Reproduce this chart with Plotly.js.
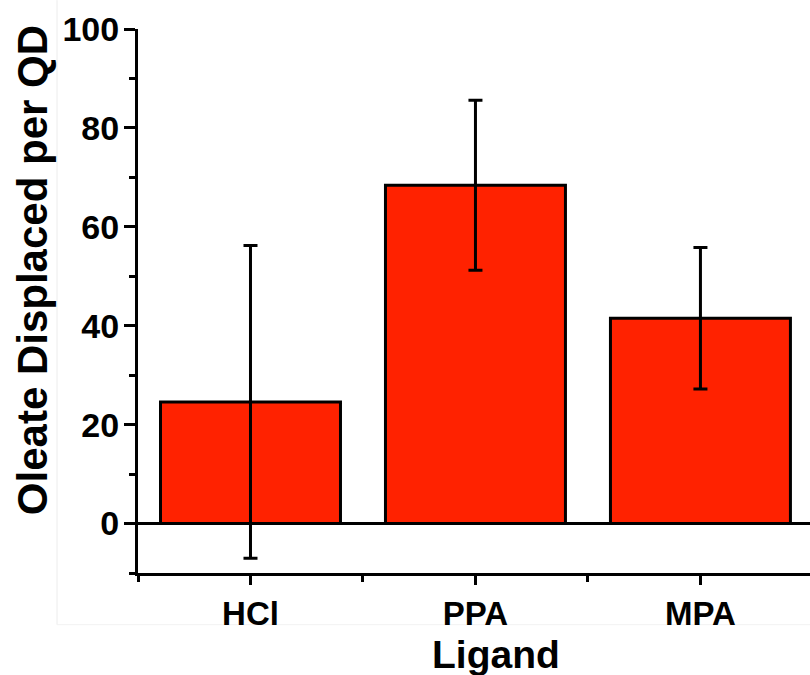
<!DOCTYPE html>
<html>
<head>
<meta charset="utf-8">
<script src="https://cdn.plot.ly/plotly-3.0.1.min.js"></script>
<style>html,body{margin:0;padding:0;background:#fff;}#chart{width:810px;height:675px;}</style>
</head>
<body>
<div id="chart"></div>
<script>
var categories = ['HCl', 'PPA', 'MPA'];
var oleateDisplaced = [24.6, 68.4, 41.5];
var errorValues = [31.6, 17.2, 14.3];
var yTickVals = [0, 20, 40, 60, 80, 100];

var xPos = categories.map(function (c, i) { return i; });

var trace = {
  type: 'bar',
  x: xPos,
  y: oleateDisplaced,
  width: 0.8,
  marker: { color: 'rgb(255,34,0)', line: { color: '#000', width: 3 } },
  error_y: { type: 'data', array: errorValues, visible: true, color: '#000', thickness: 3, width: 7 },
  hoverinfo: 'x+y'
};

var font = 'Liberation Sans, Arial, sans-serif';

var layout = {
  width: 810,
  height: 675,
  margin: { l: 138, r: 0, t: 29, b: 101.5 },
  paper_bgcolor: '#fff',
  plot_bgcolor: '#fff',
  showlegend: false,
  font: { family: font, color: '#000' },
  xaxis: {
    range: [-0.5, 2.487],
    tickmode: 'array',
    tickvals: xPos,
    ticktext: categories,
    ticks: 'outside',
    ticklen: 9,
    tickwidth: 3,
    tickcolor: '#000',
    showline: true,
    linewidth: 3,
    linecolor: '#000',
    showgrid: false,
    zeroline: false,
    tickfont: { family: font, size: 33, color: '#000', weight: 'bold' },
    minor: { tickmode: 'array', tickvals: [-0.5, 0.5, 1.5], ticks: 'outside', ticklen: 6, tickwidth: 3, tickcolor: '#000' }
  },
  yaxis: {
    range: [-10, 100],
    tickmode: 'array',
    tickvals: yTickVals,
    ticks: 'outside',
    ticklen: 11,
    tickwidth: 3,
    tickcolor: '#000',
    ticklabelstandoff: -2,
    showline: true,
    linewidth: 3,
    linecolor: '#000',
    showgrid: false,
    zeroline: true,
    zerolinecolor: '#000',
    zerolinewidth: 3,
    tickfont: { family: font, size: 34, color: '#000', weight: 'bold' },
    minor: { tickmode: 'linear', tick0: -10, dtick: 20, ticks: 'outside', ticklen: 6, tickwidth: 3, tickcolor: '#000' }
  },
  annotations: [
    {
      text: '<b>Oleate Displaced per QD</b>',
      xref: 'paper', yref: 'paper',
      x: -0.156, y: 0.557,
      xanchor: 'center', yanchor: 'middle',
      textangle: -90,
      showarrow: false,
      font: { family: font, size: 42, color: '#000' }
    },
    {
      text: '<b>Ligand</b>',
      xref: 'paper', yref: 'paper',
      x: 0.532, y: -0.15,
      xanchor: 'center', yanchor: 'middle',
      showarrow: false,
      font: { family: font, size: 39, color: '#000' }
    }
  ],
  shapes: [
    { type: 'line', xref: 'paper', yref: 'paper', x0: -0.1205, x1: -0.1205, y0: 1.053, y1: -0.095, line: { color: '#ececec', width: 1 }, layer: 'below' },
    { type: 'line', xref: 'paper', yref: 'paper', x0: -0.1205, x1: 1, y0: -0.095, y1: -0.095, line: { color: '#f2f2f2', width: 1 }, layer: 'below' }
  ]
};

Plotly.newPlot('chart', [trace], layout, { displayModeBar: false, staticPlot: true });
</script>
</body>
</html>
